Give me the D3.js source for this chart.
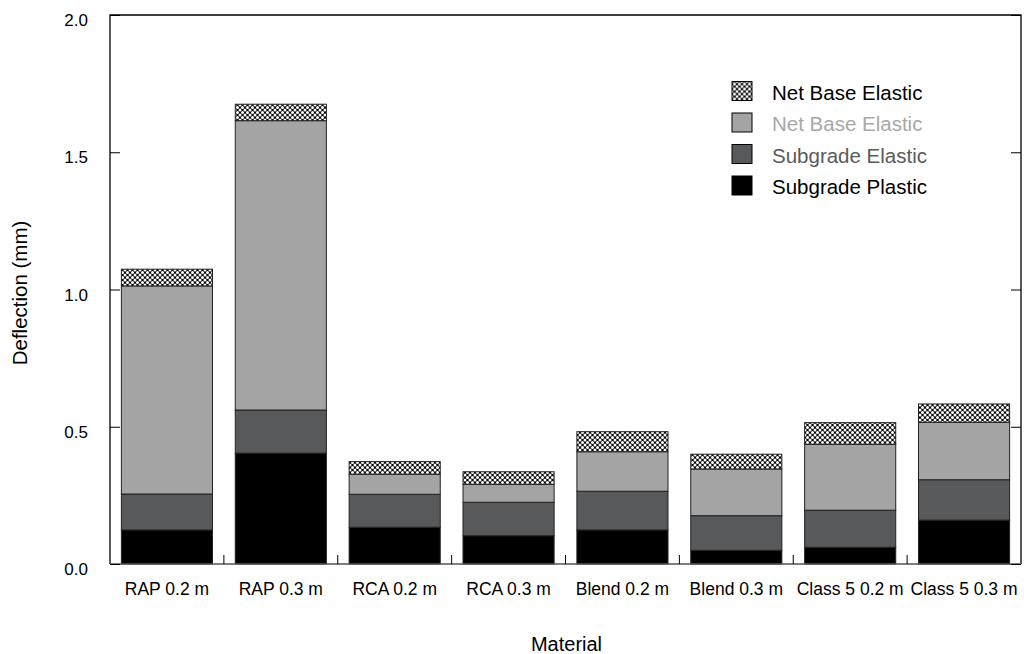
<!DOCTYPE html>
<html>
<head>
<meta charset="utf-8">
<script src="https://cdn.jsdelivr.net/npm/d3@7"></script>
<style>
  body { margin: 0; background: #fff; }
  text { font-family: "Liberation Sans", Arial, sans-serif; }
</style>
</head>
<body>
<script>
var categories = ["RAP 0.2 m", "RAP 0.3 m", "RCA 0.2 m", "RCA 0.3 m", "Blend 0.2 m", "Blend 0.3 m", "Class 5 0.2 m", "Class 5 0.3 m"]
// component thicknesses (mm), read from the stacked tops
var subgradePlastic = [0.124, 0.404, 0.134, 0.103, 0.124, 0.050, 0.061, 0.160]
var subgradeElastic = [0.131, 0.157, 0.120, 0.122, 0.141, 0.126, 0.135, 0.147]
var netBaseGrey     = [0.758, 1.054, 0.073, 0.065, 0.144, 0.170, 0.240, 0.209]
var netBaseHatch    = [0.061, 0.060, 0.046, 0.046, 0.073, 0.054, 0.079, 0.067]
var seriesNames = ["Subgrade Plastic", "Subgrade Elastic", "Net Base Elastic", "Net Base Elastic"]
var yTicks = [0, 0.5, 1.0, 1.5, 2.0]

var margin = { top: 15, right: 3, bottom: 90, left: 110 }
var width = 1024 - margin.left - margin.right
var height = 654 - margin.top - margin.bottom

var svg = d3.select("body").append("svg")
    .attr("width", 1024)
    .attr("height", 654)

var defs = svg.append("defs")
var pat = defs.append("pattern")
    .attr("id", "hatch")
    .attr("patternUnits", "userSpaceOnUse")
    .attr("width", 5)
    .attr("height", 5)
pat.append("rect").attr("width", 5).attr("height", 5).attr("fill", "#000")
pat.selectAll("circle")
    .data([[2.5, 2.5], [0, 0], [5, 0], [0, 5], [5, 5]])
    .join("circle")
    .attr("cx", d => d[0]).attr("cy", d => d[1])
    .attr("r", 1.5).attr("fill", "#fff")

var fills = ["#000000", "#58595b", "#a4a4a4", "url(#hatch)"]
var legendTextColors = ["#000000", "#5a5a5a", "#a8a8a8", "#000000"]

var xScale = d3.scaleBand()
    .domain(categories)
    .range([margin.left, margin.left + width])
    .paddingInner(0.2)
    .paddingOuter(0.1)

var yScale = d3.scaleLinear()
    .domain([0, 2])
    .range([margin.top + height, margin.top])

var table = categories.map((c, i) => ({
    cat: c,
    s0: subgradePlastic[i],
    s1: subgradeElastic[i],
    s2: netBaseGrey[i],
    s3: netBaseHatch[i]
}))
var stack = d3.stack().keys(["s0", "s1", "s2", "s3"])(table)

svg.append("g")
    .selectAll("g")
    .data(stack)
    .join("g")
    .attr("fill", (d, i) => fills[i])
    .selectAll("rect")
    .data(d => d)
    .join("rect")
    .attr("x", d => xScale(d.data.cat))
    .attr("width", xScale.bandwidth())
    .attr("y", d => yScale(d[1]))
    .attr("height", d => yScale(d[0]) - yScale(d[1]))
    .attr("stroke", "#222")
    .attr("stroke-width", 1)

// frame: left, top, right black, bottom a bit lighter
svg.append("path")
    .attr("d", "M" + margin.left + "," + (margin.top + height) + "V" + margin.top +
        "H" + (margin.left + width) + "V" + (margin.top + height))
    .attr("fill", "none")
    .attr("stroke", "#000")
    .attr("stroke-width", 1.3)
svg.append("line")
    .attr("x1", margin.left).attr("x2", margin.left + width)
    .attr("y1", margin.top + height).attr("y2", margin.top + height)
    .attr("stroke", "#555")
    .attr("stroke-width", 1.3)

// y ticks pointing inward on both sides
svg.append("g")
    .attr("transform", "translate(" + margin.left + ",0)")
    .call(d3.axisRight(yScale).tickValues(yTicks).tickSize(10).tickFormat(""))
    .select(".domain").remove()

svg.append("g")
    .attr("transform", "translate(" + (margin.left + width) + ",0)")
    .call(d3.axisLeft(yScale).tickValues(yTicks).tickSize(10).tickFormat(""))
    .select(".domain").remove()

svg.append("g")
    .selectAll("text")
    .data(yTicks)
    .join("text")
    .attr("x", 88)
    .attr("y", d => yScale(d) + 11)
    .attr("text-anchor", "end")
    .style("font-size", "17px")
    .text(d => d3.format(".1f")(d))

// x axis ticks between categories, pointing up
var bounds = categories.slice(1).map(c => xScale(c) - xScale.step() * xScale.paddingInner() / 2)
svg.append("g")
    .selectAll("line")
    .data(bounds)
    .join("line")
    .attr("x1", d => d).attr("x2", d => d)
    .attr("y1", margin.top + height)
    .attr("y2", margin.top + height - 9)
    .attr("stroke", "#000")

svg.append("g")
    .selectAll("text")
    .data(categories)
    .join("text")
    .attr("x", d => xScale(d) + xScale.bandwidth() / 2)
    .attr("y", 595)
    .attr("text-anchor", "middle")
    .style("font-size", "17.5px")
    .text(d => d)

svg.append("text")
    .attr("x", margin.left + width / 2 + 1)
    .attr("y", 651)
    .attr("text-anchor", "middle")
    .style("font-size", "20px")
    .text("Material")

svg.append("text")
    .attr("transform", "translate(27,293) rotate(-90)")
    .attr("text-anchor", "middle")
    .style("font-size", "20.5px")
    .text("Deflection (mm)")

// legend, top item is the hatched series
var legendOrder = [3, 2, 1, 0]
var legend = svg.append("g")
    .selectAll("g")
    .data(legendOrder)
    .join("g")
    .attr("transform", (d, i) => "translate(732," + (81.5 + i * 31.5) + ")")
legend.append("rect")
    .attr("width", 20)
    .attr("height", 19)
    .attr("fill", d => fills[d])
    .attr("stroke", "#000")
    .attr("stroke-width", 1)
legend.append("text")
    .attr("x", 40)
    .attr("y", 18)
    .style("font-size", "20.5px")
    .attr("fill", d => legendTextColors[d])
    .text(d => seriesNames[d])
</script>
</body>
</html>
